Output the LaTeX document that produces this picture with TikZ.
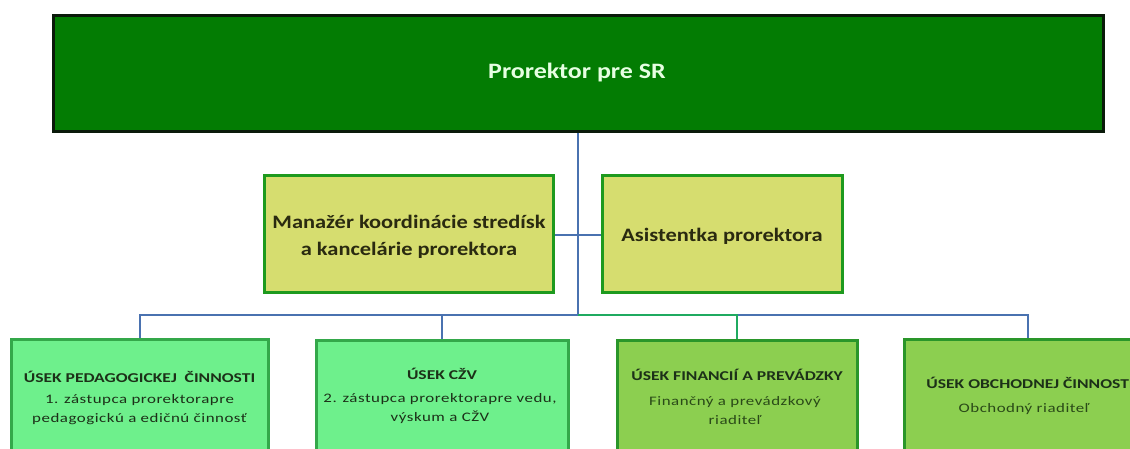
\documentclass[tikz,border=0pt]{standalone}
\usepackage{fontspec}
\setmainfont[FakeStretch=1.18]{Carlito}
\newfontfamily\headf[FakeStretch=1.3]{Carlito}
\newfontfamily\subf[FakeStretch=1.3,LetterSpace=4]{Carlito}
\definecolor{topfill}{HTML}{037C03}
\definecolor{topline}{HTML}{0A1A0A}
\definecolor{toptext}{HTML}{E6FFE2}
\definecolor{midfill}{HTML}{D6DD6F}
\definecolor{midline}{HTML}{1E9A1E}
\definecolor{midtext}{HTML}{2A2A10}
\definecolor{lightfill}{HTML}{6EF08C}
\definecolor{lightline}{HTML}{34A84A}
\definecolor{darkfill}{HTML}{8CCF50}
\definecolor{darkline}{HTML}{2A962A}
\definecolor{lowtext}{HTML}{1C3018}
\definecolor{lowtextb}{HTML}{2A4A18}
\definecolor{conn}{HTML}{4A72B0}
\definecolor{connb}{HTML}{1FAA60}
\tikzset{
  topbox/.style={draw=topline, line width=3pt, fill=topfill, inner sep=0pt},
  midbox/.style={draw=midline, line width=3pt, fill=midfill, inner sep=0pt},
  lowbox/.style={draw=lightline, line width=3pt, fill=lightfill, inner sep=0pt},
  lowboxb/.style={draw=darkline, line width=3pt, fill=darkfill, inner sep=0pt},
  toptxt/.style={text=toptext, font=\bfseries\fontsize{22}{26}\selectfont},
  midtxt/.style={text=midtext, font=\bfseries\fontsize{19}{27}\selectfont, align=center},
  headtxt/.style={text=lowtext, font=\headf\bfseries\fontsize{13.5}{16}\selectfont},
  subtxt/.style={text=lowtext, font=\subf\fontsize{13}{19}\selectfont, align=center},
  wire/.style={draw=conn, line width=2pt},
  wireb/.style={draw=connb, line width=2pt},
}
\begin{document}
\begin{tikzpicture}[x=1pt,y=-1pt]
\useasboundingbox (0,0) rectangle (1130,448);
\clip (0,0) rectangle (1130,448);
% boxes
\node[topbox, minimum width=1050pt, minimum height=116pt] (top) at (578,73) {};
\node[toptxt] (toptext) at (577,73) {Prorektor pre SR};
\node[midbox, minimum width=289pt, minimum height=117pt] (mgr) at (409,234) {};
\node[midtxt] (mgrtext) at (409,237) {Manažér koordinácie stredísk\\a kancelárie prorektora};
\node[midbox, minimum width=240pt, minimum height=117pt] (asst) at (722,234) {};
\node[midtxt] (assttext) at (722,236) {Asistentka prorektora};
\node[lowbox, minimum width=257pt, minimum height=118pt] (b1) at (139.5,398) {};
\node[lowbox, minimum width=252pt, minimum height=118pt] (b2) at (442,399) {};
\node[lowboxb, minimum width=240pt, minimum height=118pt] (b3) at (737,399) {};
\node[lowboxb, minimum width=248pt, minimum height=118pt] (b4) at (1028,398) {};
% texts of lower boxes
\node[headtxt] (h1) at (139.5,377) {ÚSEK PEDAGOGICKEJ\ \ ČINNOSTI};
\node[subtxt] (s1) at (139.5,410) {1. zástupca prorektorapre\\pedagogickú a edičnú činnosť};
\node[headtxt] (h2) at (442,374) {ÚSEK CŽV};
\node[subtxt] (s2) at (440,409) {2. zástupca prorektorapre vedu,\\výskum a CŽV};
\node[headtxt] (h3) at (737,375) {ÚSEK FINANCIÍ A PREVÁDZKY};
\node[subtxt, text=lowtextb] (s3) at (735,411) {Finančný a prevádzkový\\riaditeľ};
\node[headtxt] (h4) at (1030,383) {ÚSEK OBCHODNEJ ČINNOSTI};
\node[subtxt, text=lowtextb] (s4) at (1024,409) {Obchodný riaditeľ};
% connectors
\coordinate (bus) at (578,315);
\coordinate (mid) at (578,235);
\draw[wire] (top.south) -- (bus);
\draw[wire] (mgr.east |- mid) -- (mid) -- (asst.west |- mid);
\draw[wire] (b1.north) -- (b1.north |- bus) -- (b4.north |- bus) -- (b4.north);
\draw[wire] (b2.north |- bus) -- (b2.north);
\draw[wireb] (bus) -- (b3.north |- bus) -- (b3.north);
\end{tikzpicture}
\end{document}
